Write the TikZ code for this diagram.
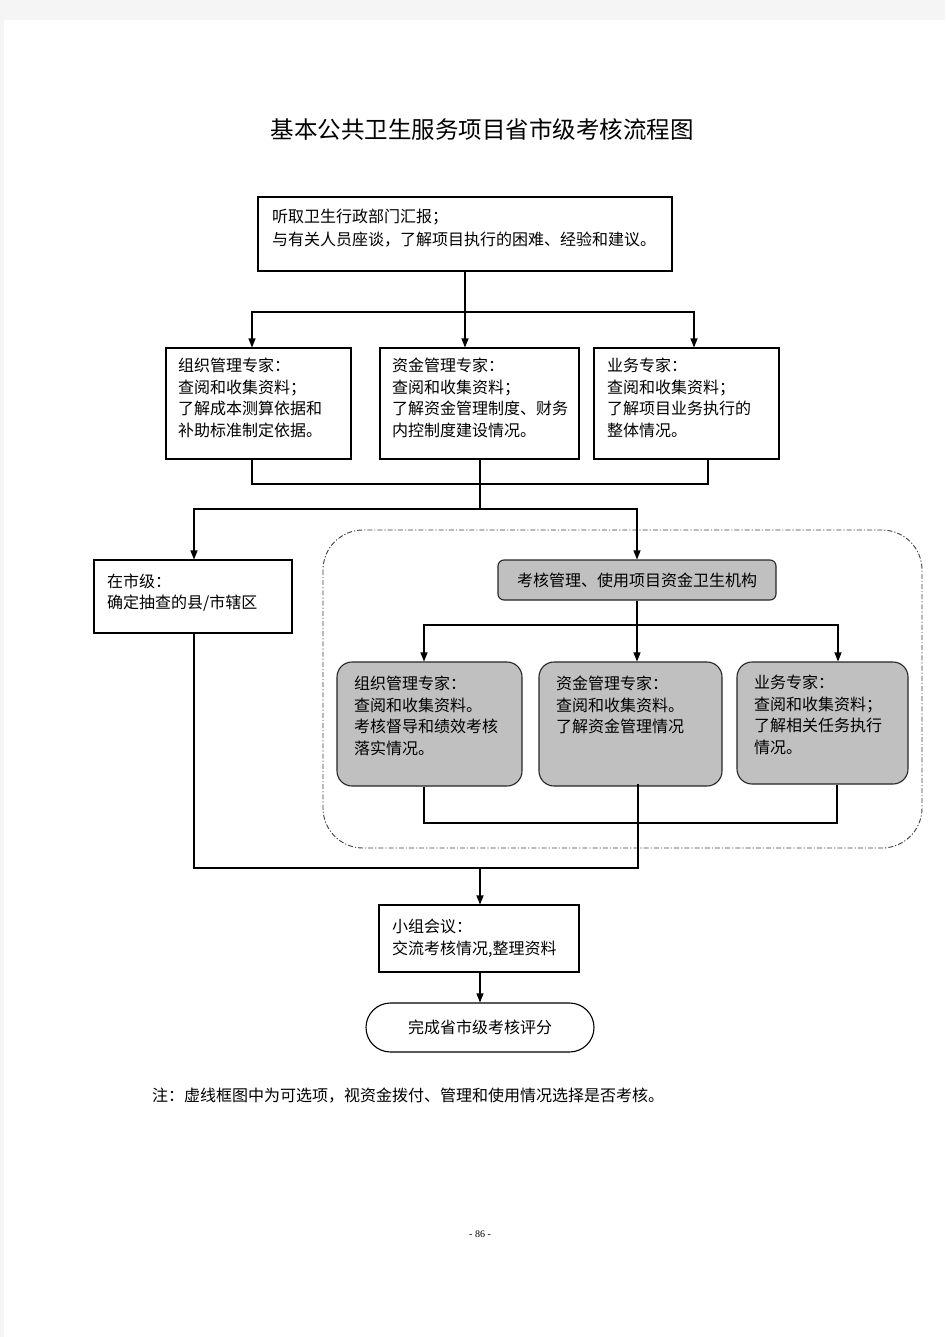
\documentclass[tikz,border=0pt]{standalone}
\usepackage{fontspec}
\usetikzlibrary{arrows.meta,calc}
\newfontfamily\cjk{Noto Sans CJK SC}
\setmainfont{Liberation Serif}
\definecolor{pagegray}{HTML}{F5F5F5}
\definecolor{boxgray}{HTML}{C0C0C0}
\tikzset{
  box/.style={draw=black,line width=1.1pt,inner sep=0pt},
  graybox/.style={box,fill=boxgray,draw=black!85},
  txt/.style={anchor=north west,inner sep=0pt,align=left,font=\cjk\fontsize{16}{21.5}\selectfont},
  ctxt/.style={inner sep=0pt,font=\cjk\fontsize{16}{21.5}\selectfont},
  ln/.style={line width=1.1pt},
  arr/.style={ln,-{Triangle[length=9pt,width=7pt]}},
}
\begin{document}
\begin{tikzpicture}[x=1pt,y=-1pt]
\fill[pagegray] (0,0) rectangle (945,1337);
\fill[white] (4,20) rectangle (945,1337);
\useasboundingbox (0,0) rectangle (945,1337);

% title
\node[inner sep=0pt,font=\cjk\fontsize{23.5}{27}\selectfont] (title) at (482,130) {基本公共卫生服务项目省市级考核流程图};

% dashed optional region
\draw[line width=0.9pt,dash pattern=on 5pt off 2pt on 1.2pt off 2pt,rounded corners=40pt,black!75] (323,530) rectangle (922,848);

% boxes
\node[box,minimum width=414pt,minimum height=74pt] (T) at (465,234) {};
\node[box,minimum width=185pt,minimum height=111pt] (A1) at (258.5,403.5) {};
\node[box,minimum width=199pt,minimum height=111pt] (A2) at (479.5,403.5) {};
\node[box,minimum width=185pt,minimum height=111pt] (A3) at (686.5,403.5) {};
\node[box,minimum width=198pt,minimum height=73pt] (B) at (193,596.5) {};
\node[graybox,rounded corners=6pt,minimum width=278pt,minimum height=40pt] (C) at (637,580) {};
\node[graybox,rounded corners=15pt,minimum width=185pt,minimum height=124pt] (D1) at (429.5,724) {};
\node[graybox,rounded corners=15pt,minimum width=183pt,minimum height=124pt] (D2) at (630.5,724) {};
\node[graybox,rounded corners=15pt,minimum width=171pt,minimum height=122pt] (D3) at (822.5,723) {};
\node[box,minimum width=200pt,minimum height=67pt] (E) at (479,938.5) {};
\node[box,rounded corners=24.5pt,minimum width=228pt,minimum height=49pt] (F) at (480,1027.5) {};

% texts
\node[txt,font=\cjk\fontsize{16}{23}\selectfont] (tT) at (272,209) {听取卫生行政部门汇报；\\与有关人员座谈，了解项目执行的困难、经验和建议。};
\node[txt] (tA1) at (178,358) {组织管理专家：\\查阅和收集资料；\\了解成本测算依据和\\补助标准制定依据。};
\node[txt] (tA2) at (392,358) {资金管理专家：\\查阅和收集资料；\\了解资金管理制度、财务\\内控制度建设情况。};
\node[txt] (tA3) at (607,358) {业务专家：\\查阅和收集资料；\\了解项目业务执行的\\整体情况。};
\node[txt,font=\cjk\fontsize{16}{21}\selectfont] (tB) at (107,574) {在市级：\\确定抽查的县/市辖区};
\node[ctxt] (tC) at (C) {考核管理、使用项目资金卫生机构};
\node[txt] (tD1) at (354,676) {组织管理专家：\\查阅和收集资料。\\考核督导和绩效考核\\落实情况。};
\node[txt] (tD2) at (556,676) {资金管理专家：\\查阅和收集资料。\\了解资金管理情况};
\node[txt] (tD3) at (754,675) {业务专家：\\查阅和收集资料；\\了解相关任务执行\\情况。};
\node[txt,font=\cjk\fontsize{16}{22}\selectfont] (tE) at (392,919) {小组会议：\\交流考核情况,整理资料};
\node[ctxt] (tF) at (F) {完成省市级考核评分};

\node[anchor=west,inner sep=0pt,font=\cjk\fontsize{16}{20}\selectfont] (note) at (152,1096) {注：虚线框图中为可选项，视资金拨付、管理和使用情况选择是否考核。};
\node[inner sep=0pt,font=\fontsize{10}{12}\selectfont] (page) at (480,1234) {- 86 -};

% connectors: top -> three experts
\coordinate (j1) at (465,312);
\draw[ln] (T.south) -- (j1);
\draw[arr] (j1) -| ([xshift=-6.5pt]A1.north);
\draw[arr] (j1) -- ([xshift=-14.5pt]A2.north);
\draw[arr] (j1) -| ([xshift=7.5pt]A3.north);

% three experts -> merge
\coordinate (j2) at (708,484);
\coordinate (j3) at (480,509);
\draw[ln] ([xshift=-6.5pt]A1.south) |- (j2) -- ([xshift=21.5pt]A3.south);
\draw[ln] ([xshift=0.5pt]A2.south) -- (j3);
\draw[arr] (j3) -| ([xshift=1pt]B.north);
\draw[arr] (j3) -| (C.north);

% C -> D boxes
\coordinate (j4) at (637,625);
\draw[arr] (C.south) -- ([xshift=6.5pt]D2.north);
\draw[arr] (j4) -| ([xshift=-5.5pt]D1.north);
\draw[arr] (j4) -| ([xshift=15.5pt]D3.north);
\coordinate (j6) at (837,823);
\draw[ln] ([xshift=-5.5pt]D1.south) |- (j6) -- ([xshift=14.5pt]D3.south);

% merge to meeting
\coordinate (j5) at (480,868);
\draw[ln] ([xshift=7.5pt,yshift=3pt]D2.south) |- (j5);
\draw[ln] ([xshift=1pt]B.south) |- (j5);
\draw[arr] (j5) -- ([xshift=1pt]E.north);
\draw[arr] ([xshift=1pt]E.south) -- (F.north);
\end{tikzpicture}
\end{document}
